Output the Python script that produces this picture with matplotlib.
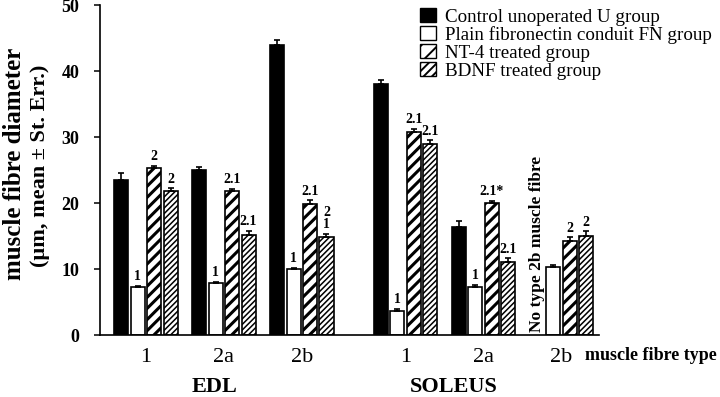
import numpy as np
import matplotlib
matplotlib.use("Agg")
import matplotlib.pyplot as plt
from matplotlib.patches import Patch

plt.rcParams['font.family'] = ['Liberation Serif', 'DejaVu Serif']

fibre_types = ['1', '2a', '2b', '1', '2a', '2b']
muscles = ['EDL', 'SOLEUS']
series = ['Control unoperated U group', 'Plain fibronectin conduit FN group',
          'NT-4 treated group', 'BDNF treated group']

control = [23.5, 25.0, 44.0, 38.0, 16.3, np.nan]
control_err = [1.0, 0.5, 0.7, 0.6, 1.0, np.nan]
fn = [7.2, 7.9, 10.0, 3.7, 7.3, 10.35]
fn_err = [0.3, 0.2, 0.2, 0.2, 0.3, 0.2]
nt4 = [25.3, 21.8, 19.8, 30.8, 20.0, 14.2]
nt4_err = [0.3, 0.3, 0.6, 0.4, 0.3, 0.6]
bdnf = [21.8, 15.2, 14.9, 29.0, 11.1, 15.0]
bdnf_err = [0.4, 0.6, 0.4, 0.5, 0.5, 0.7]

fn_labels = ['1', '1', '1', '1', '1', '']
nt4_labels = ['2', '2.1', '2.1', '2.1', '2.1*', '2']
bdnf_labels = ['2', '2.1', '2\n1', '2.1', '2.1', '2']

no_fibre_note = 'No type 2b muscle fibre'

fig = plt.figure(figsize=(7.2, 3.97), dpi=100)
ax = fig.add_axes([100/720, 1-335/397, 499/720, 330/397])

x = np.array([0, 1, 2, 3.33, 4.33, 5.33])
step = 0.21
w = 0.18

styles = [
    dict(facecolor='black', hatch=None, hlw=1.0),
    dict(facecolor='white', hatch=None, hlw=1.0),
    dict(facecolor='white', hatch='///', hlw=2.2),
    dict(facecolor='white', hatch='//////', hlw=1.1),
]
vals = [control, fn, nt4, bdnf]
errs = [control_err, fn_err, nt4_err, bdnf_err]
labels_all = [None, fn_labels, nt4_labels, bdnf_labels]

for i, (v, e, st) in enumerate(zip(vals, errs, styles)):
    xi = x + (i - 1.5) * step
    plt.rcParams['hatch.linewidth'] = st['hlw']
    bars = ax.bar(xi, v, width=w, facecolor=st['facecolor'], edgecolor='black',
                  linewidth=1.2, hatch=st['hatch'], zorder=2)
    for b in bars:
        if hasattr(b, 'set_hatch_linewidth'):
            b.set_hatch_linewidth(st['hlw'])
    ve = np.array(v, dtype=float)
    ee = np.array(e, dtype=float)
    m = ~np.isnan(ve)
    ax.errorbar(xi[m], ve[m], yerr=[np.zeros(m.sum()), ee[m]], fmt='none',
                ecolor='black', elinewidth=1.2, capsize=2.5, capthick=1.2, zorder=3)
    if labels_all[i] is not None:
        for xx, vv, ee_, lab in zip(xi, ve, ee, labels_all[i]):
            if lab and not np.isnan(vv):
                ax.annotate(lab, (xx, vv + ee_), xytext=(0, 2), textcoords='offset points',
                            ha='center', va='bottom', fontsize=10, fontweight='bold',
                            linespacing=0.95)

ax.text(x[5] - 1.5 * step, 0.4, no_fibre_note, rotation=90, ha='center', va='bottom',
        fontsize=12.5, fontweight='bold')

ax.set_xlim(-0.59, 5.81)
ax.set_ylim(0, 50)
ax.set_yticks([0, 10, 20, 30, 40, 50])
ax.set_xticks(x)
ax.set_xticklabels(fibre_types, fontsize=16)
ax.tick_params(axis='x', length=0, pad=9)
ax.tick_params(axis='y', direction='out', length=4, width=1.1, labelsize=13, pad=11)
for t in ax.get_yticklabels():
    t.set_fontweight('bold')
for s in ['top', 'right']:
    ax.spines[s].set_visible(False)
for s in ['left', 'bottom']:
    ax.spines[s].set_linewidth(1.2)

fig.text(585/720, 1-356/397, 'muscle fibre type', ha='left', va='center',
         fontsize=13, fontweight='bold')
fig.text(214/720, 1-387/397, muscles[0], ha='center', va='center', fontsize=16, fontweight='bold')
fig.text(454/720, 1-387/397, muscles[1], ha='center', va='center', fontsize=16, fontweight='bold')

fig.text(15/720, 1-164/397, 'muscle fibre diameter', rotation=90, ha='center', va='center',
         fontsize=18, fontweight='bold')
fig.text(40/720, 1-166/397, '(µm, mean ± St. Err.)', rotation=90, ha='center', va='center',
         fontsize=16, fontweight='bold')

handles = []
for st, name in zip(styles, series):
    plt.rcParams['hatch.linewidth'] = 1.4
    p = Patch(facecolor=st['facecolor'], edgecolor='black', linewidth=1.0,
              hatch=('//' if st['hatch'] == '///' else ('////' if st['hatch'] else None)), label=name)
    handles.append(p)
fig.legend(handles=handles, loc='upper left', bbox_to_anchor=(420/720, 1-8/397),
           frameon=False, fontsize=13.7, handlelength=0.85, handleheight=0.75,
           handletextpad=0.45, labelspacing=0.02, borderpad=0, borderaxespad=0)

fig.savefig('out.png', dpi=100)
